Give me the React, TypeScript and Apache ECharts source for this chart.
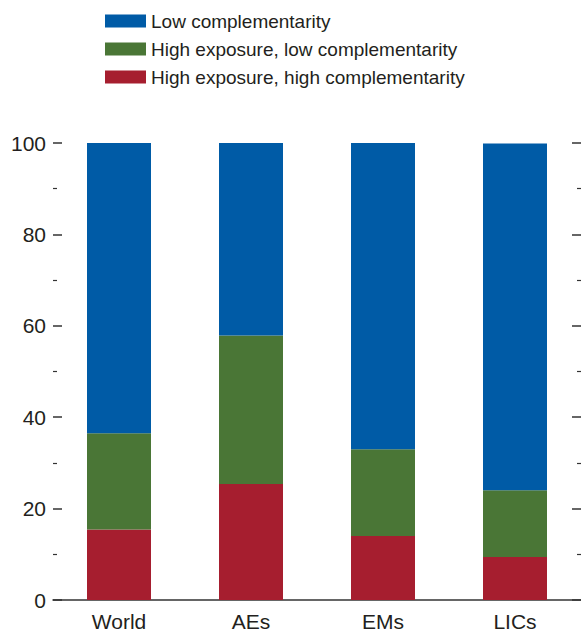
import React, { useEffect, useRef } from "react";
import * as echarts from "echarts";

const categories = ["World", "AEs", "EMs", "LICs"];
const highExpHighComp = [15.4, 25.4, 14.0, 9.4];
const highExpLowComp = [21.1, 32.5, 19.0, 14.6];
const lowComp = [63.5, 42.5, 67.4, 75.9];
const seriesNames = [
  "Low complementarity",
  "High exposure, low complementarity",
  "High exposure, high complementarity",
];
const yTicks = [0, 20, 40, 60, 80, 100];

const BLUE = "#005BA6";
const GREEN = "#4A7636";
const RED = "#A61E2F";
const TEXT = "#231F20";
const FONT = "'Liberation Sans', Arial, sans-serif";

export default function App() {
  const ref = useRef<HTMLDivElement>(null);
  useEffect(() => {
    if (!ref.current) return;
    const chart = echarts.init(ref.current, null, { renderer: "svg" });
    chart.setOption({
      animation: false,
      backgroundColor: "#ffffff",
      legend: {
        orient: "vertical",
        left: 105,
        top: 11,
        padding: 0,
        itemWidth: 41,
        itemHeight: 13,
        itemGap: 8,
        icon: "rect",
        data: seriesNames,
        textStyle: {
          fontFamily: FONT,
          fontSize: 19,
          lineHeight: 20,
          color: TEXT,
        },
      },
      grid: { left: 53, top: 143, width: 532, height: 457, containLabel: false },
      xAxis: {
        type: "category",
        data: categories,
        axisLine: { show: true, lineStyle: { color: "#333333", width: 1.5 } },
        axisTick: { show: false },
        axisLabel: {
          fontFamily: FONT,
          fontSize: 21,
          color: TEXT,
          margin: 11,
        },
      },
      yAxis: [
        {
          type: "value",
          min: 0,
          max: 100,
          interval: 20,
          position: "left",
          axisLine: { show: false },
          axisTick: { show: true, inside: true, length: 9, lineStyle: { color: "#333333", width: 1.5 } },
          minorTick: { show: true, splitNumber: 2, length: 4, lineStyle: { color: "#333333", width: 1.2 } },
          splitLine: { show: false },
          axisLabel: {
            fontFamily: FONT,
            fontSize: 21,
            color: TEXT,
            margin: 7,
            formatter: (v: number) => (yTicks.includes(v) ? String(v) : ""),
          },
        },
        {
          type: "value",
          min: 0,
          max: 100,
          interval: 20,
          position: "right",
          axisLine: { show: false },
          axisTick: { show: true, inside: true, length: 9, lineStyle: { color: "#333333", width: 1.5 } },
          minorTick: { show: true, splitNumber: 2, length: 4, lineStyle: { color: "#333333", width: 1.2 } },
          splitLine: { show: false },
          axisLabel: { show: false },
        },
      ],
      series: [
        {
          name: seriesNames[2],
          type: "bar",
          stack: "total",
          data: highExpHighComp,
          barWidth: 64,
          itemStyle: { color: RED },
        },
        {
          name: seriesNames[1],
          type: "bar",
          stack: "total",
          data: highExpLowComp,
          barWidth: 64,
          itemStyle: { color: GREEN },
        },
        {
          name: seriesNames[0],
          type: "bar",
          stack: "total",
          data: lowComp,
          barWidth: 64,
          itemStyle: { color: BLUE },
        },
      ],
    });
    return () => chart.dispose();
  }, []);
  return (
    <div
      ref={ref}
      style={{ position: "fixed", left: 0, top: 0, width: 581, height: 634 }}
    />
  );
}
